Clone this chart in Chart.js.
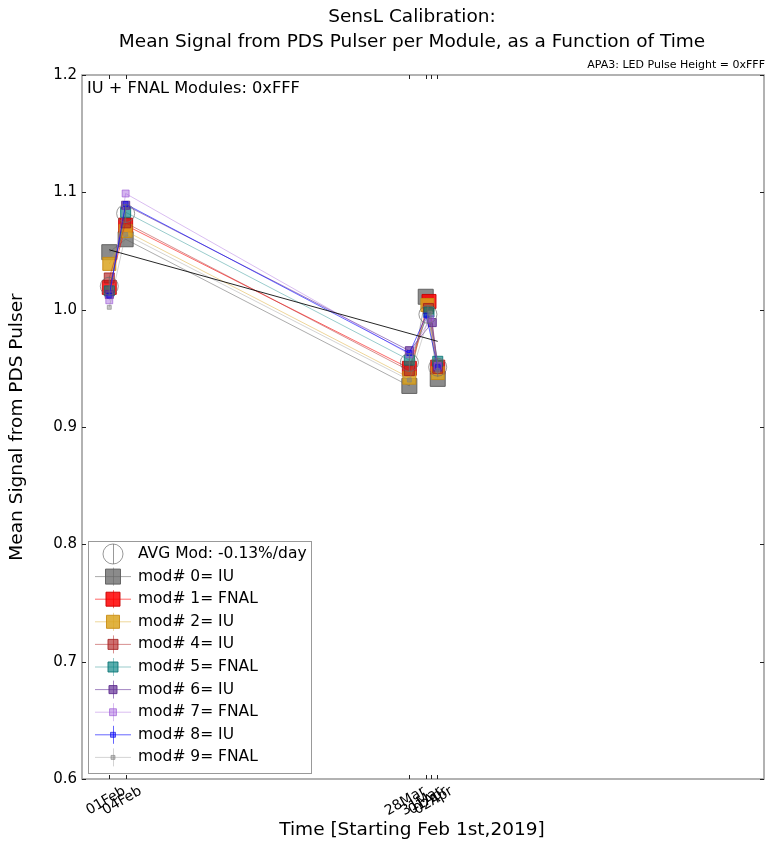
<!DOCTYPE html>
<html>
<head>
<meta charset="utf-8">
<script src="https://cdn.jsdelivr.net/npm/chart.js@4.4.1/dist/chart.umd.min.js"></script>
<style>
  html, body { margin:0; padding:0; background:#fff; }
  #wrap { width:768px; height:843px; }
</style>
</head>
<body>
<div id="wrap"><canvas id="c" width="768" height="843"></canvas></div>
<script>
// ── values (x = days since 01 Feb 2019) ──
const tickDays   = [0, 3, 55, 58, 59, 60];
const tickLabels = ['01Feb', '04Feb', '28Mar', '31Mar', '01Apr', '02Apr'];

const modLabels = ['mod# 0= IU', 'mod# 1= FNAL', 'mod# 2= IU', 'mod# 4= IU', 'mod# 5= FNAL',
                   'mod# 6= IU', 'mod# 7= FNAL', 'mod# 8= IU', 'mod# 9= FNAL'];

const runDays  = [0, 3, 55];
const lateDay  = [58.0, 58.6, 58.3, 58.5, 58.6, 59.2, 58.8, 58.1, 58.8];
const lastDay  = 60.2;

const sigFeb1  = [1.049, 1.019, 1.039, 1.027, 1.016, 1.013, 1.008, 1.012, 1.002];
const sigFeb4  = [1.060, 1.072, 1.067, 1.074, 1.083, 1.089, 1.099, 1.090, 1.064];
const sigMar28 = [0.935, 0.950, 0.942, 0.948, 0.957, 0.965, 0.962, 0.963, 0.940];
const sigLate  = [1.011, 1.007, 1.004, 1.001, 0.998, 0.989, 0.992, 0.995, 0.997];
const sigApr2  = [0.941, 0.951, 0.946, 0.950, 0.956, 0.951, 0.952, 0.951, 0.948];

const avgDays   = [0, 3, 55, 58.4, 60.2];
const avgSignal = [1.020, 1.082, 0.955, 0.996, 0.951];
const avgErr    = [0.008, 0.008, 0.008, 0.008, 0.008];

const fitDays   = [0, 60.2];
const fitSignal = [1.051, 0.973];

// styles
const FONT = '"DejaVu Sans", "Liberation Sans", sans-serif';
const modFill = ['rgba(100,100,100,0.75)', 'rgba(255,0,0,0.85)', 'rgba(218,165,32,0.85)', 'rgba(178,34,34,0.65)',
                 'rgba(0,128,128,0.65)', 'rgba(102,51,153,0.7)', 'rgba(160,90,220,0.45)', 'rgba(0,0,255,0.45)',
                 'rgba(130,130,130,0.45)'];
const modEdge = ['rgba(90,90,90,0.9)', 'rgba(200,0,0,0.9)', 'rgba(200,140,20,0.9)', 'rgba(160,30,30,0.8)',
                 'rgba(0,110,110,0.8)', 'rgba(90,40,140,0.85)', 'rgba(150,80,210,0.6)', 'rgba(0,0,220,0.6)',
                 'rgba(130,130,130,0.6)'];
const modLine = ['rgba(90,90,90,0.5)', 'rgba(255,0,0,0.6)', 'rgba(218,165,32,0.45)', 'rgba(178,34,34,0.5)',
                 'rgba(0,128,128,0.4)', 'rgba(102,51,153,0.6)', 'rgba(160,90,220,0.4)', 'rgba(0,0,255,0.6)',
                 'rgba(130,130,130,0.35)'];
const modRadius = [10.6, 9.9, 9.2, 7.1, 7.1, 5.7, 4.9, 3.5, 2.8];

const modSets = modLabels.map((lab, i) => ({
  label: lab,
  data: [
    { x: runDays[0], y: sigFeb1[i] },
    { x: runDays[1], y: sigFeb4[i] },
    { x: runDays[2], y: sigMar28[i] },
    { x: lateDay[i], y: sigLate[i] },
    { x: lastDay,    y: sigApr2[i] }
  ],
  showLine: true,
  borderColor: modLine[i],
  borderWidth: 1,
  pointStyle: 'rect',
  pointRadius: modRadius[i],
  pointBackgroundColor: modFill[i],
  pointBorderColor: modEdge[i],
  pointBorderWidth: 1,
  order: 20 - i
}));

const avgSet = {
  label: 'AVG Mod: -0.13%/day',
  data: avgDays.map((d, i) => ({ x: d, y: avgSignal[i] })),
  showLine: false,
  pointStyle: 'circle',
  pointRadius: 9,
  pointBackgroundColor: 'rgba(0,0,0,0)',
  pointBorderColor: 'rgba(110,110,110,0.7)',
  pointBorderWidth: 1,
  order: 2
};

const fitSet = {
  label: 'fit',
  data: fitDays.map((d, i) => ({ x: d, y: fitSignal[i] })),
  showLine: true,
  borderColor: 'rgba(0,0,0,0.85)',
  borderWidth: 1,
  pointRadius: 0,
  order: 1
};

// error bars for the average
const avgErrBars = {
  id: 'avgErrBars',
  afterDatasetsDraw(chart) {
    const { ctx, scales: { x, y } } = chart;
    ctx.save();
    ctx.strokeStyle = 'rgba(110,110,110,0.8)';
    ctx.lineWidth = 1;
    avgDays.forEach((d, i) => {
      const px = x.getPixelForValue(d);
      ctx.beginPath();
      ctx.moveTo(px, y.getPixelForValue(avgSignal[i] - avgErr[i]));
      ctx.lineTo(px, y.getPixelForValue(avgSignal[i] + avgErr[i]));
      ctx.stroke();
    });
    ctx.restore();
  }
};

// frame, inward ticks, texts, legend
const decor = {
  id: 'decor',
  afterDraw(chart) {
    const { ctx, chartArea: a, scales: { x, y } } = chart;
    ctx.save();
    // frame
    ctx.strokeStyle = '#999';
    ctx.lineWidth = 1.5;
    ctx.strokeRect(a.left, a.top, a.right - a.left, a.bottom - a.top);
    // inward ticks
    ctx.strokeStyle = '#222';
    ctx.lineWidth = 1;
    ctx.beginPath();
    x.ticks.forEach(t => {
      const px = Math.round(x.getPixelForValue(t.value)) + 0.5;
      ctx.moveTo(px, a.bottom); ctx.lineTo(px, a.bottom - 4);
      ctx.moveTo(px, a.top);    ctx.lineTo(px, a.top + 4);
    });
    y.ticks.forEach(t => {
      const py = Math.round(y.getPixelForValue(t.value)) + 0.5;
      ctx.moveTo(a.left, py);  ctx.lineTo(a.left + 4, py);
      ctx.moveTo(a.right, py); ctx.lineTo(a.right - 4, py);
    });
    ctx.stroke();

    // titles and notes
    ctx.fillStyle = '#000';
    ctx.textAlign = 'center';
    ctx.textBaseline = 'middle';
    ctx.font = '18.5px ' + FONT;
    ctx.fillText('SensL Calibration:', 412, 17);
    ctx.fillText('Mean Signal from PDS Pulser per Module, as a Function of Time', 412, 42);
    ctx.fillText('Time [Starting Feb 1st,2019]', 412, 830);
    ctx.textAlign = 'right';
    ctx.font = '11px ' + FONT;
    ctx.fillText('APA3: LED Pulse Height = 0xFFF', 765, 65);
    ctx.textAlign = 'left';
    ctx.font = '16.2px ' + FONT;
    ctx.fillText('IU + FNAL Modules: 0xFFF', 87, 89);

    // legend box
    const bx = 88, by = 541, bw = 223, bh = 232, rowH = 22.6;
    ctx.fillStyle = '#fff';
    ctx.fillRect(bx, by, bw, bh);
    ctx.strokeStyle = '#999';
    ctx.lineWidth = 1;
    ctx.strokeRect(bx + 0.5, by + 0.5, bw, bh);
    const mx = 113;
    ctx.font = '15.5px ' + FONT;
    ctx.textBaseline = 'middle';
    // AVG row
    let ry = by + 13;
    ctx.strokeStyle = avgSet.pointBorderColor;
    ctx.beginPath(); ctx.arc(mx, ry, 10, 0, Math.PI * 2); ctx.stroke();
    ctx.beginPath(); ctx.moveTo(mx + 0.5, ry - 10); ctx.lineTo(mx + 0.5, ry + 10); ctx.stroke();
    ctx.fillStyle = '#000';
    ctx.fillText(avgSet.label, 138, ry);
    modSets.forEach((ds, i) => {
      ry = by + 13 + rowH * (i + 1);
      ctx.strokeStyle = ds.borderColor;
      ctx.lineWidth = 1;
      ctx.beginPath();
      ctx.moveTo(95, ry); ctx.lineTo(131, ry);
      ctx.moveTo(mx + 0.5, ry - 9); ctx.lineTo(mx + 0.5, ry + 9);
      ctx.stroke();
      ctx.fillStyle = ds.pointBackgroundColor;
      ctx.strokeStyle = ds.pointBorderColor;
      Chart.helpers.drawPoint(ctx, {
        pointStyle: 'rect', radius: ds.pointRadius, borderWidth: 1, rotation: 0
      }, mx, ry);
      ctx.fillStyle = '#000';
      ctx.fillText(ds.label, 138, ry);
    });
    ctx.restore();
  }
};

new Chart(document.getElementById('c'), {
  type: 'scatter',
  data: { datasets: [...modSets, avgSet, fitSet] },
  options: {
    responsive: false,
    animation: false,
    layout: { autoPadding: false, padding: { left: 0, right: 4, top: 75, bottom: 0 } },
    plugins: { legend: { display: false }, tooltip: { enabled: false }, title: { display: false } },
    scales: {
      x: {
        type: 'linear', min: -5, max: 120,
        afterBuildTicks: s => { s.ticks = tickDays.map(v => ({ value: v })); },
        afterFit: s => { s.height = 64; s.paddingLeft = 0; s.paddingRight = 0; },
        ticks: {
          callback: (v, i) => tickLabels[i],
          autoSkip: false, minRotation: 30, maxRotation: 30,
          labelOffset: 15, padding: 4,
          font: { family: FONT, size: 14 }, color: '#000'
        },
        grid: { display: false, drawTicks: false },
        border: { display: false }
      },
      y: {
        min: 0.6, max: 1.2,
        afterFit: s => { s.width = 82; s.paddingTop = 0; s.paddingBottom = 0; },
        ticks: {
          stepSize: 0.1,
          callback: v => v.toFixed(1),
          padding: 5,
          font: { family: FONT, size: 15 }, color: '#000'
        },
        grid: { display: false, drawTicks: false },
        border: { display: false },
        title: {
          display: true, text: 'Mean Signal from PDS Pulser',
          font: { family: FONT, size: 18.5 }, color: '#000',
          padding: { top: 6, bottom: 0 }
        }
      }
    }
  },
  plugins: [avgErrBars, decor]
});
</script>
</body>
</html>
